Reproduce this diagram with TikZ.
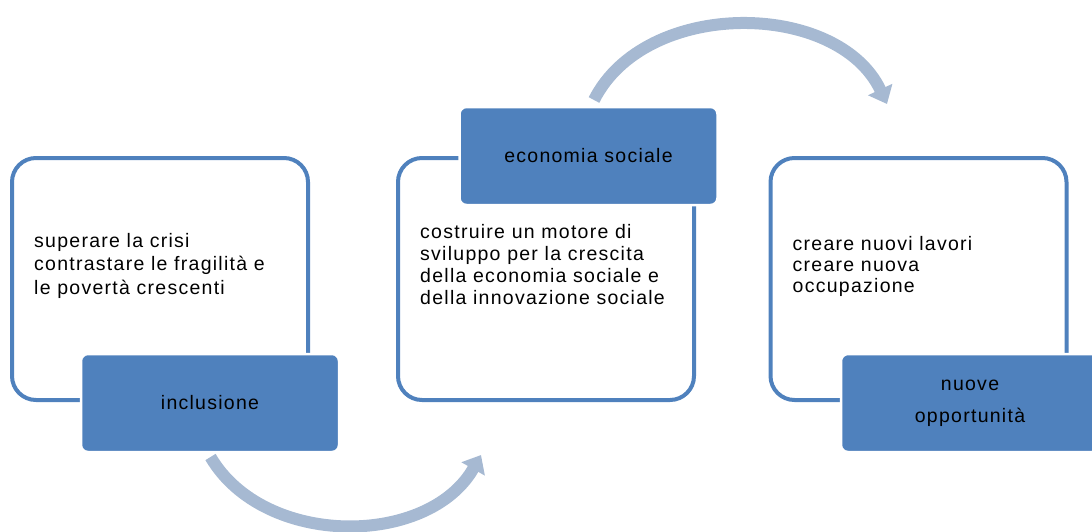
\documentclass[tikz,border=0pt]{standalone}
\usepackage{fontspec}
\setmainfont{Liberation Sans}[LetterSpace=6.5]
\usepackage{xcolor}
\usetikzlibrary{arrows.meta}

\definecolor{boxblue}{HTML}{4F81BD}
\definecolor{arcblue}{HTML}{A6B9D2}

\begin{document}
\begin{tikzpicture}[x=1pt,y=1pt,
   framebox/.style={draw=boxblue,line width=4pt,rounded corners=24pt,
                    minimum width=296pt,minimum height=242pt},
   headbox/.style={fill=boxblue,draw=white,line width=2.5pt,rounded corners=7pt,
                   minimum width=258pt,minimum height=98pt,align=center,
                   font=\fontsize{19.5}{32}\selectfont},
   bodytext/.style={anchor=north west,inner sep=0pt,align=left},
   cyclearrow/.style={draw=arcblue,line width=12pt,
                      -{Triangle[width=26pt,length=16pt]}}]
   \useasboundingbox (0,0) rectangle (1092,-531);

   % outline boxes
   \node[framebox] (crisi)  at (160,-279)   {};
   \node[framebox] (motore) at (546,-279)   {};
   \node[framebox] (lavori) at (918.5,-279) {};

   % filled heads
   \node[headbox] (inclusione)  at (210,-403)   {inclusione};
   \node[headbox] (economia)    at (588.5,-156) {economia sociale};
   \node[headbox] (opportunita) at (970,-403)   {nuove\\opportunità};

   % texts in the boxes
   \node[bodytext,font=\fontsize{19.5}{23.5}\selectfont] (crisiTxt)
        at ([shift={(24,-77)}]crisi.north west)
        {superare la crisi\\contrastare le fragilità e\\le povertà crescenti};
   \node[bodytext,font=\fontsize{19.5}{22}\selectfont] (motoreTxt)
        at ([shift={(24,-68)}]motore.north west)
        {costruire un motore di\\sviluppo per la crescita\\della economia sociale e\\della innovazione sociale};
   \node[bodytext,font=\fontsize{19.5}{21}\selectfont] (lavoriTxt)
        at ([shift={(24,-80)}]lavori.north west)
        {creare nuovi lavori\\creare nuova\\occupazione};

   % arrows between the steps
   \coordinate (inclOut) at (210.5,-457);
   \coordinate (motoreIn) at (481,-455);
   \coordinate (econOut) at (594,-100);
   \coordinate (lavoriIn) at (887,-104);
   \draw[cyclearrow] (inclOut) to[bend right=60] (motoreIn);
   \draw[cyclearrow] (econOut) to[bend left=64] (lavoriIn);
\end{tikzpicture}
\end{document}
